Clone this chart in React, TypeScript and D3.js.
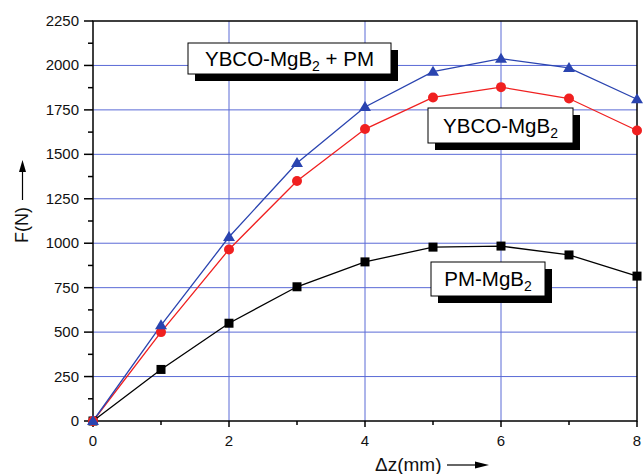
import React from 'react';
import * as d3 from 'd3';

const dz = [0, 1, 2, 3, 4, 5, 6, 7, 8];
const pmMgB2 = [0, 290, 550, 755, 895, 978, 984, 934, 815];
const ybcoMgB2 = [0, 500, 965, 1350, 1642, 1820, 1878, 1814, 1634];
const ybcoMgB2Pm = [0, 538, 1035, 1451, 1766, 1965, 2038, 1986, 1810];
const yTicks = [0, 250, 500, 750, 1000, 1250, 1500, 1750, 2000, 2250];
const xTicks = [0, 2, 4, 6, 8];

const W = 644;
const H = 474;
const M = { left: 93, right: 637, top: 21, bottom: 421 };
const FONT = '"Liberation Sans", Arial, sans-serif';

const x = d3.scaleLinear().domain([0, 8]).range([M.left, M.right]);
const y = d3.scaleLinear().domain([0, 2250]).range([M.bottom, M.top]);

const line = d3.line<number>().x((_, i) => x(dz[i])).y(d => y(d));

const LabelBox = ({ x0, y0, w, h, main, after }: { x0: number; y0: number; w: number; h: number; main: string; after?: string }) => (
  <g>
    <rect x={x0 + 7} y={y0 + 7} width={w} height={h} fill="#000" />
    <rect x={x0} y={y0} width={w} height={h} fill="#fff" stroke="#000" strokeWidth={1} />
    <text x={x0 + w / 2} y={y0 + h / 2 + 7} textAnchor="middle" fontSize={20.5} fontFamily={FONT} fill="#000">
      {main}
      <tspan fontSize={14} dy={5}>2</tspan>
      {after ? <tspan dy={-5}>{after}</tspan> : null}
    </text>
  </g>
);

export default function App() {
  const minorY = d3.range(0, 2250 + 1, 125);
  const minorX = d3.range(0, 9, 1);
  return (
    <svg width={W} height={H} style={{ position: 'absolute', left: 0, top: 0, background: '#fff' }}>
      {/* grid */}
      {yTicks.slice(1, -1).map(t => (
        <line key={'gy' + t} x1={M.left} x2={M.right} y1={y(t)} y2={y(t)} stroke="#5a6ad6" strokeWidth={1} />
      ))}
      {xTicks.slice(1, -1).map(t => (
        <line key={'gx' + t} x1={x(t)} x2={x(t)} y1={M.top} y2={M.bottom} stroke="#5a6ad6" strokeWidth={1} />
      ))}
      {/* frame */}
      <rect x={M.left} y={M.top} width={M.right - M.left} height={M.bottom - M.top} fill="none" stroke="#000" strokeWidth={1.5} />
      {/* y ticks */}
      {minorY.map(t => (
        <line key={'ty' + t} x1={M.left - (t % 250 === 0 ? 9 : 5)} x2={M.left} y1={y(t)} y2={y(t)} stroke="#000" strokeWidth={1.5} />
      ))}
      {yTicks.map(t => (
        <text key={'ly' + t} x={79} y={y(t) + 5} textAnchor="end" fontSize={15} fontFamily={FONT} fill="#111">{t}</text>
      ))}
      {/* x ticks */}
      {minorX.map(t => (
        <line key={'tx' + t} x1={x(t)} x2={x(t)} y1={M.bottom} y2={M.bottom + (t % 2 === 0 ? 6 : 4)} stroke="#000" strokeWidth={1.5} />
      ))}
      {xTicks.map(t => (
        <text key={'lx' + t} x={x(t)} y={446} textAnchor="middle" fontSize={15} fontFamily={FONT} fill="#111">{t}</text>
      ))}
      {/* axis titles */}
      <text transform="translate(28,225) rotate(-90)" textAnchor="middle" fontSize={18} fontFamily={FONT} fill="#111">F(N)</text>
      <line x1={22.5} x2={22.5} y1={200} y2={170} stroke="#000" strokeWidth={1.2} />
      <path d="M22.5,160 L19,172 L26,172 Z" fill="#000" />
      <text x={375} y={471} fontSize={19} fontFamily={FONT} fill="#111">Δz(mm)</text>
      <line x1={447} x2={478} y1={465} y2={465} stroke="#000" strokeWidth={1.2} />
      <path d="M489,465 L475,461.5 L475,468.5 Z" fill="#000" />
      {/* series */}
      <path d={line(pmMgB2) || ''} fill="none" stroke="#000" strokeWidth={1.3} />
      <path d={line(ybcoMgB2) || ''} fill="none" stroke="#f02020" strokeWidth={1.3} />
      <path d={line(ybcoMgB2Pm) || ''} fill="none" stroke="#2a44b0" strokeWidth={1.3} />
      {pmMgB2.map((v, i) => (
        <rect key={'s' + i} x={x(dz[i]) - 4.5} y={y(v) - 4.5} width={9} height={9} fill="#000" />
      ))}
      {ybcoMgB2.map((v, i) => (
        <circle key={'c' + i} cx={x(dz[i])} cy={y(v)} r={5} fill="#f02020" />
      ))}
      {ybcoMgB2Pm.map((v, i) => {
        const cx = x(dz[i]);
        const cy = y(v);
        return <path key={'t' + i} d={`M${cx},${cy - 6} L${cx + 6},${cy + 4} L${cx - 6},${cy + 4} Z`} fill="#2a44b0" />;
      })}
      {/* labels */}
      <LabelBox x0={188} y0={43} w={203} h={31} main="YBCO-MgB" after=" + PM" />
      <LabelBox x0={428} y0={108} w={145} h={35} main="YBCO-MgB" />
      <LabelBox x0={431} y0={262} w={114} h={34} main="PM-MgB" />
    </svg>
  );
}
